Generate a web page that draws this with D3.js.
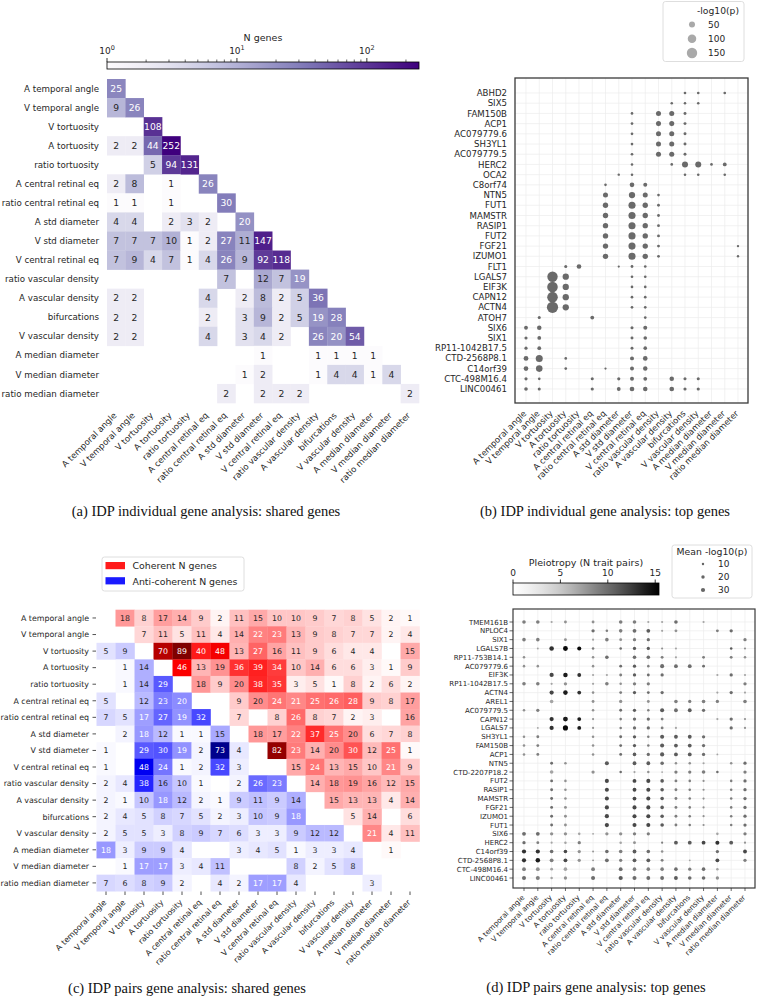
<!DOCTYPE html>
<html><head><meta charset="utf-8">
<script src="https://cdn.jsdelivr.net/npm/d3@7"></script>
<style>
body{margin:0;background:#fff}
svg{display:block}
text{font-family:"DejaVu Sans",sans-serif}
.cap{font-family:"Liberation Serif","Times New Roman",serif}
</style>
</head><body>
<svg id="fig" width="758" height="999"></svg>
<script>
const _ = null;
const traits = ["A temporal angle","V temporal angle","V tortuosity","A tortuosity","ratio tortuosity","A central retinal eq","ratio central retinal eq","A std diameter","V std diameter","V central retinal eq","ratio vascular density","A vascular density","bifurcations","V vascular density","A median diameter","V median diameter","ratio median diameter"];

// (a) shared genes, individual analysis (lower triangle incl. diagonal)
const individualShared = [
[25],
[9,26],
[_,_,108],
[2,2,44,252],
[_,_,5,94,131],
[2,8,_,1,_,26],
[1,1,_,1,_,_,30],
[4,4,_,2,3,2,_,20],
[7,7,7,10,1,2,27,11,147],
[7,9,4,7,1,4,26,9,92,118],
[_,_,_,_,_,_,7,_,12,7,19],
[2,2,_,_,_,4,_,2,8,2,5,36],
[2,2,_,_,_,2,_,3,9,2,5,19,28],
[2,2,_,_,_,4,_,3,4,2,_,26,20,54],
[_,_,_,_,_,_,_,_,1,_,_,1,1,1,1],
[_,_,_,_,_,_,_,1,2,_,_,1,4,4,1,4],
[_,_,_,_,_,_,2,_,2,2,2,_,_,_,_,_,2]
];
const nGenesMax = 252;

// (c) pairs shared genes: upper = coherent, lower = anti-coherent
const pairsShared = [
[_,18,8,17,14,9,2,11,15,10,10,9,7,8,5,2,1],
[_,_,7,11,5,11,4,14,22,23,13,9,8,7,7,2,4],
[5,9,_,70,89,40,48,13,27,16,11,9,6,4,4,_,15],
[_,1,14,_,46,13,19,36,39,34,10,14,6,6,3,1,9],
[_,1,14,29,_,18,9,20,38,35,3,5,1,8,2,6,2],
[5,_,12,23,20,_,_,9,20,24,21,25,26,28,9,8,17],
[7,5,17,27,19,32,_,7,_,8,26,8,7,2,3,_,16],
[_,2,18,12,1,1,15,_,18,17,22,37,25,20,6,7,8],
[1,_,29,30,19,2,73,4,_,82,23,14,20,30,12,25,1],
[1,_,48,24,1,2,32,3,_,_,15,24,13,15,10,21,9],
[2,4,38,16,10,1,_,2,26,23,_,14,18,19,16,12,15],
[2,1,10,18,12,2,1,9,11,9,14,_,15,13,13,4,14],
[2,4,5,8,7,5,2,3,10,9,18,_,_,5,14,_,6],
[2,5,5,3,8,9,7,6,3,3,9,12,12,_,21,4,11],
[18,3,9,9,4,_,_,3,4,5,1,3,3,4,_,1,_],
[_,1,17,17,3,4,11,_,_,_,8,2,5,8,_,_,_],
[7,6,8,9,2,_,4,2,17,17,4,_,_,_,3,_,_]
];
const pairsMax = 89;

// (b) top genes, individual analysis: [trait index, -log10(p)]
const genesIndividual = ["ABHD2","SIX5","FAM150B","ACP1","AC079779.6","SH3YL1","AC079779.5","HERC2","OCA2","C8orf74","NTN5","FUT1","MAMSTR","RASIP1","FUT2","FGF21","IZUMO1","FLT1","LGALS7","EIF3K","CAPN12","ACTN4","ATOH7","SIX6","SIX1","RP11-1042B17.5","CTD-2568P8.1","C14orf39","CTC-498M16.4","LINC00461"];
const individualTopP = [
[[12,10],[13,10],[15,10]],
[[11,9],[12,9],[13,9]],
[[8,10],[10,35],[11,35],[12,12]],
[[8,10],[10,35],[11,35],[12,12]],
[[8,10],[10,35],[11,35],[12,12]],
[[8,10],[10,35],[11,35],[12,12]],
[[8,10],[10,35],[11,35],[12,12]],
[[8,9],[11,10],[12,50],[13,50],[14,10],[15,20]],
[[7,8],[8,9],[12,9],[13,9],[15,9]],
[[6,9],[8,30],[9,22]],
[[6,35],[8,55],[9,35],[10,10]],
[[6,40],[8,70],[9,40],[10,11]],
[[6,40],[8,70],[9,40],[10,11]],
[[6,40],[8,70],[9,40],[10,11]],
[[6,40],[8,70],[9,40],[10,11]],
[[6,40],[8,70],[9,40],[10,11],[16,8]],
[[6,40],[8,70],[9,40],[10,11],[16,8]],
[[3,13],[4,30],[7,7],[8,11],[9,10]],
[[2,150],[3,55],[8,10],[9,10]],
[[2,155],[3,55],[8,10],[9,10]],
[[2,155],[3,55],[8,10],[9,10]],
[[2,175],[3,55],[8,10],[9,10]],
[[1,13],[5,20],[9,10]],
[[0,20],[1,28],[8,13],[9,22]],
[[0,14],[1,20],[8,12],[9,18]],
[[0,14],[1,20],[8,12],[9,18]],
[[0,32],[1,68],[3,10],[8,22],[9,30]],
[[0,30],[1,60],[3,10],[6,7],[8,22],[9,28]],
[[0,14],[1,10],[5,13],[7,14],[8,22],[9,20],[11,28],[12,13],[13,13]],
[[0,18],[1,13],[5,14],[7,20],[8,30],[9,28],[11,30],[12,14],[13,14]]
];
const pLegendValues = [50,100,150];

// (d) top genes, pairs analysis: [trait index, mean -log10(p), pleiotropy]
const genesPairs = ["TMEM161B","NPLOC4","SIX1","LGALS7B","RP11-753B14.1","AC079779.6","EIF3K","RP11-1042B17.5","ACTN4","AREL1","AC079779.5","CAPN12","LGALS7","SH3YL1","FAM150B","ACP1","NTN5","CTD-2207P18.2","FUT2","RASIP1","MAMSTR","FGF21","IZUMO1","FUT1","SIX6","HERC2","C14orf39","CTD-2568P8.1","CTC-498M16.4","LINC00461"];
const pairsTop = [
[[0,22,9],[1,22,9],[2,8,7],[3,14,8],[5,14,8],[7,22,9],[8,22,9],[9,8,7],[10,8,7],[11,22,10],[13,8,7]],
[[5,18,10],[6,11,9],[7,22,9],[8,25,10],[9,25,11],[10,8,7],[11,14,8],[14,14,9],[15,18,10]],
[[0,22,9],[1,22,9],[3,14,8],[5,8,7],[6,22,9],[7,14,8],[8,18,9],[9,18,10],[16,18,9]],
[[1,6,7],[2,35,13],[3,40,15],[4,28,15],[5,11,9],[7,11,10],[8,18,11],[9,18,11],[10,8,8],[11,8,7],[15,11,11],[16,8,8]],
[[0,11,8],[5,11,8],[6,22,10],[8,22,10],[9,22,10],[10,14,9],[11,8,7],[13,14,9],[15,14,9],[16,11,8]],
[[0,11,8],[1,11,8],[5,11,8],[7,14,10],[8,18,11],[9,11,9],[10,28,10],[11,25,10],[12,25,10],[13,14,10]],
[[2,30,12],[3,35,14],[4,25,13],[5,8,7],[6,8,7],[7,14,9],[8,18,11],[9,14,10],[10,18,10],[14,8,7],[15,18,10],[16,8,7]],
[[0,22,9],[1,22,9],[2,8,7],[3,18,8],[5,8,7],[6,22,9],[7,11,8],[8,18,9],[9,18,9],[16,18,9]],
[[2,30,12],[3,35,14],[4,25,13],[5,11,8],[7,14,9],[8,18,11],[9,14,10],[10,18,10],[14,8,7],[15,18,10],[16,8,7]],
[[2,22,7],[5,14,8],[7,18,8],[9,14,8],[11,22,9],[12,18,9],[13,22,9],[14,18,9],[16,22,9]],
[[0,11,8],[1,18,9],[5,11,8],[7,14,10],[8,18,11],[9,11,9],[10,28,11],[11,25,10],[12,25,11],[13,18,10]],
[[2,30,13],[3,40,14],[4,25,14],[5,8,8],[7,11,9],[8,18,10],[9,18,10],[10,14,9],[14,8,7],[15,18,10],[16,8,8]],
[[1,6,7],[2,30,13],[3,45,15],[4,25,14],[5,8,8],[7,11,9],[8,18,10],[9,18,10],[10,14,9],[11,8,7],[15,18,10],[16,8,8]],
[[0,11,8],[1,14,9],[5,11,8],[7,14,10],[8,18,11],[9,11,9],[10,28,11],[11,25,11],[12,25,11],[13,18,10]],
[[0,11,8],[1,14,9],[5,11,8],[7,14,10],[8,18,11],[9,11,9],[10,28,11],[11,25,11],[12,25,11],[13,18,10]],
[[0,11,8],[1,14,9],[5,11,8],[7,14,10],[8,22,11],[9,18,10],[10,30,11],[11,25,11],[12,25,11],[13,18,10],[14,6,7]],
[[2,14,10],[3,11,8],[6,28,11],[8,25,11],[9,25,11],[10,22,10],[11,11,8],[12,11,8],[13,8,7],[15,11,8],[16,18,10]],
[[2,22,7],[5,18,8],[7,11,10],[8,8,7],[9,11,8],[10,5,7],[11,18,9],[12,18,9],[13,22,9],[14,11,10],[16,18,9]],
[[2,14,10],[3,11,8],[6,28,12],[8,25,12],[9,28,12],[10,22,11],[11,14,9],[12,11,9],[13,8,8],[15,11,9],[16,18,10]],
[[2,14,10],[3,11,8],[6,28,12],[8,25,12],[9,28,12],[10,22,11],[11,14,9],[12,11,9],[13,8,8],[15,11,9],[16,18,10]],
[[2,14,10],[3,11,8],[6,28,12],[8,25,12],[9,28,12],[10,22,11],[11,14,9],[12,11,9],[13,8,8],[15,11,9],[16,18,10]],
[[2,14,10],[3,14,8],[6,30,12],[8,28,12],[9,28,12],[10,22,11],[11,14,9],[12,11,9],[13,8,8],[15,11,9],[16,18,10]],
[[2,14,10],[3,14,8],[6,30,12],[8,28,12],[9,28,12],[10,22,11],[11,14,9],[12,11,9],[13,8,8],[15,11,9],[16,18,10]],
[[2,14,10],[3,14,8],[6,30,12],[8,28,12],[9,28,12],[10,22,11],[11,14,9],[12,11,9],[13,8,8],[15,11,9],[16,18,10]],
[[0,25,10],[1,25,10],[2,18,8],[3,18,8],[4,11,7],[5,6,7],[6,18,8],[7,18,8],[8,18,9],[9,18,9],[14,11,7],[16,18,9]],
[[0,18,10],[1,14,9],[2,8,7],[3,11,7],[4,18,9],[7,11,7],[8,14,8],[10,8,9],[11,25,11],[12,25,11],[13,25,12],[14,28,13],[15,25,11],[16,8,8]],
[[0,30,13],[1,30,13],[2,22,10],[3,22,12],[4,18,8],[5,6,8],[6,22,10],[7,22,9],[8,25,11],[9,22,10],[10,11,8],[14,18,10],[16,25,12]],
[[0,30,13],[1,35,14],[2,25,9],[3,25,12],[4,18,8],[5,6,8],[6,25,10],[7,18,9],[8,25,11],[9,25,11],[10,14,9],[12,6,7],[14,25,12],[16,18,9]],
[[0,25,9],[1,25,8],[2,14,7],[3,22,7],[5,25,9],[7,25,10],[8,22,9],[9,22,9],[10,22,9],[11,22,10],[12,18,9],[13,22,10],[14,11,7]],
[[0,28,10],[1,28,9],[2,11,7],[3,18,8],[5,28,10],[7,30,11],[8,28,10],[9,25,10],[10,25,10],[11,25,11],[12,22,10],[13,22,10],[14,18,8]]
];
const meanPLegendValues = [10,20,30];
const pleiotropyTicks = [0,5,10,15];
const pleiotropyMax = 15.4;

const captions = ["(a) IDP individual gene analysis: shared genes","(b) IDP individual gene analysis: top genes","(c) IDP pairs gene analysis: shared genes","(d) IDP pairs gene analysis: top genes"];
const legendLabelsC = ["Coherent N genes","Anti-coherent N genes"];

// ---------- helpers ----------
const svg = d3.select("#fig");
const defs = svg.append("defs");
const DARK = "#262626";
function lum(c){
  const rgb = d3.rgb(c);
  const f = v => { v/=255; return v<=0.03928? v/12.92 : Math.pow((v+0.055)/1.055,2.4); };
  return 0.2126*f(rgb.r)+0.7152*f(rgb.g)+0.0722*f(rgb.b);
}
function textCol(c){ return lum(c) > 0.408 ? DARK : "#ffffff"; }
function rotLabels(g, names, xs, y, fs){
  g.selectAll("text.xl").data(names).join("text").attr("class","xl")
    .attr("transform",(d,i)=>`translate(${xs(i)},${y}) rotate(-45)`)
    .attr("text-anchor","end").attr("font-size",fs).attr("fill",DARK).text(d=>d);
}

// ---------- Panel (a) ----------
(function(){
  const g = svg.append("g");
  const x = d3.scaleBand().domain(d3.range(17)).range([107,419]);
  const y = d3.scaleBand().domain(d3.range(17)).range([79,403]);
  const logS = d3.scaleLog().domain([1,nGenesMax]).range([0,1]);
  const col = v => d3.interpolatePurples(logS(v));
  const cells = [];
  individualShared.forEach((row,i)=>row.forEach((v,j)=>{ if(v!==null) cells.push({i,j,v}); }));
  g.selectAll("rect.c").data(cells).join("rect")
    .attr("x",d=>x(d.j)).attr("y",d=>y(d.i)).attr("width",x.bandwidth()+0.3).attr("height",y.bandwidth()+0.3)
    .attr("fill",d=>col(d.v));
  g.selectAll("text.v").data(cells).join("text")
    .attr("x",d=>x(d.j)+x.bandwidth()/2).attr("y",d=>y(d.i)+y.bandwidth()/2)
    .attr("dy","0.36em").attr("text-anchor","middle").attr("font-size",9.2)
    .attr("fill",d=>textCol(col(d.v))).text(d=>d.v);
  g.selectAll("text.yl").data(traits).join("text")
    .attr("x",99).attr("y",(d,i)=>y(i)+y.bandwidth()/2).attr("dy","0.36em")
    .attr("text-anchor","end").attr("font-size",8.7).attr("fill",DARK).text(d=>d);
  rotLabels(g, traits, i=>x(i)+x.bandwidth()/2+1, 416, 8.5);
  // colorbar
  const cb = d3.scaleLog().domain([1,nGenesMax]).range([107,419]);
  const grad = defs.append("linearGradient").attr("id","gPur");
  d3.range(0,1.001,0.05).forEach(t=>grad.append("stop").attr("offset",t).attr("stop-color",d3.interpolatePurples(t)));
  g.append("rect").attr("x",107).attr("y",62).attr("width",312).attr("height",7).attr("fill","url(#gPur)").attr("stroke","#000").attr("stroke-width",0.8);
  const minor = [];
  [1,10,100].forEach(b=>d3.range(2,10).forEach(m=>{ if(b*m<=nGenesMax) minor.push(b*m); }));
  g.selectAll("line.mt").data(minor).join("line").attr("x1",d=>cb(d)).attr("x2",d=>cb(d)).attr("y1",62).attr("y2",59.5).attr("stroke","#000").attr("stroke-width",0.6);
  const major = [1,10,100];
  g.selectAll("line.Mt").data(major).join("line").attr("x1",d=>cb(d)).attr("x2",d=>cb(d)).attr("y1",62).attr("y2",58).attr("stroke","#000").attr("stroke-width",0.8);
  const lab = g.selectAll("text.cbl").data(major).join("text").attr("x",d=>cb(d)).attr("y",54).attr("text-anchor","middle").attr("font-size",9).attr("fill",DARK);
  lab.append("tspan").text("10");
  lab.append("tspan").attr("dy",-4).attr("font-size",6.5).text(d=>Math.round(Math.log10(d)));
  g.append("text").attr("x",263).attr("y",41).attr("text-anchor","middle").attr("font-size",9.5).attr("fill",DARK).text("N genes");
  g.append("text").attr("class","cap").attr("x",206).attr("y",516).attr("text-anchor","middle").attr("font-size",14.5).attr("fill","#111").text(captions[0]);
})();

// ---------- Panel (b) ----------
(function(){
  const g = svg.append("g");
  const x = d3.scalePoint().domain(d3.range(17)).range([526,738]);
  const y = d3.scalePoint().domain(genesIndividual).range([93,389]);
  const r = d3.scaleSqrt().domain([0,150]).range([0,5.2]);
  const X0=515,Y0=78,X1=748,Y1=403;
  g.selectAll("line.gx").data(d3.range(17)).join("line").attr("x1",d=>x(d)).attr("x2",d=>x(d)).attr("y1",Y0).attr("y2",Y1).attr("stroke","#ececec").attr("stroke-width",0.7);
  g.selectAll("line.gy").data(genesIndividual).join("line").attr("x1",X0).attr("x2",X1).attr("y1",d=>y(d)).attr("y2",d=>y(d)).attr("stroke","#ececec").attr("stroke-width",0.7);
  const dots = [];
  individualTopP.forEach((row,i)=>row.forEach(([j,v])=>dots.push({g:genesIndividual[i],j,v})));
  g.selectAll("circle.d").data(dots).join("circle").attr("cx",d=>x(d.j)).attr("cy",d=>y(d.g)).attr("r",d=>r(d.v)).attr("fill","#6a6a6a");
  g.append("rect").attr("x",X0).attr("y",Y0).attr("width",X1-X0).attr("height",Y1-Y0).attr("fill","none").attr("stroke","#3a3a3a").attr("stroke-width",1.3);
  g.selectAll("text.yl").data(genesIndividual).join("text").attr("x",507).attr("y",d=>y(d)).attr("dy","0.36em").attr("text-anchor","end").attr("font-size",8.6).attr("fill",DARK).text(d=>d);
  rotLabels(g, traits, i=>x(i)+1, 414, 8.4);
  // legend
  g.append("rect").attr("x",663).attr("y",1.5).attr("width",81).attr("height",60).attr("rx",2.5).attr("fill","#fff").attr("stroke","#d5d5d5").attr("stroke-width",0.8);
  g.append("text").attr("x",718).attr("y",14).attr("text-anchor","middle").attr("font-size",9.2).attr("fill",DARK).text("-log10(p)");
  const ly = d3.scaleLinear().domain([0,2]).range([24.5,53]);
  g.selectAll("circle.l").data(pLegendValues).join("circle").attr("cx",692).attr("cy",(d,i)=>ly(i)).attr("r",d=>r(d)).attr("fill","#a9a9a9");
  g.selectAll("text.l").data(pLegendValues).join("text").attr("x",708).attr("y",(d,i)=>ly(i)).attr("dy","0.36em").attr("font-size",9).attr("fill",DARK).text(d=>d);
  g.append("text").attr("class","cap").attr("x",605).attr("y",516).attr("text-anchor","middle").attr("font-size",14.5).attr("fill","#111").text(captions[1]);
})();

// ---------- Panel (c) ----------
(function(){
  const g = svg.append("g");
  const x = d3.scaleBand().domain(d3.range(17)).range([96.5,419.5]);
  const y = d3.scaleBand().domain(d3.range(17)).range([609.7,891.2]);
  const seismic = d3.scaleLinear().domain([0,0.25,0.5,0.75,1]).range(["#00004d","#0000ff","#ffffff","#ff0000","#800000"]);
  const cells = [];
  pairsShared.forEach((row,i)=>row.forEach((v,j)=>{ if(v!==null) cells.push({i,j,v,c: j>i ? seismic(0.5+0.5*v/pairsMax) : seismic(0.5-0.5*v/pairsMax)}); }));
  g.selectAll("rect.c").data(cells).join("rect")
    .attr("x",d=>x(d.j)).attr("y",d=>y(d.i)).attr("width",x.bandwidth()+0.3).attr("height",y.bandwidth()+0.3).attr("fill",d=>d.c);
  g.selectAll("text.v").data(cells).join("text")
    .attr("x",d=>x(d.j)+x.bandwidth()/2).attr("y",d=>y(d.i)+y.bandwidth()/2).attr("dy","0.36em")
    .attr("text-anchor","middle").attr("font-size",7.8).attr("fill",d=>textCol(d.c)).text(d=>d.v);
  g.selectAll("text.yl").data(traits).join("text").attr("x",89).attr("y",(d,i)=>y(i)+y.bandwidth()/2).attr("dy","0.36em")
    .attr("text-anchor","end").attr("font-size",7.9).attr("fill",DARK).text(d=>d);
  g.selectAll("line.yt").data(traits).join("line").attr("x1",92.5).attr("x2",96).attr("y1",(d,i)=>y(i)+y.bandwidth()/2).attr("y2",(d,i)=>y(i)+y.bandwidth()/2).attr("stroke",DARK).attr("stroke-width",0.8);
  g.selectAll("line.xt").data(traits).join("line").attr("y1",891.5).attr("y2",895).attr("x1",(d,i)=>x(i)+x.bandwidth()/2).attr("x2",(d,i)=>x(i)+x.bandwidth()/2).attr("stroke",DARK).attr("stroke-width",0.8);
  rotLabels(g, traits, i=>x(i)+x.bandwidth()/2+1, 903, 7.9);
  // legend
  g.append("rect").attr("x",102).attr("y",557).attr("width",142).attr("height",34).attr("rx",2.5).attr("fill","#fff").attr("stroke","#d5d5d5").attr("stroke-width",0.8);
  const lc = ["#ff1a1a","#1a1aff"];
  g.selectAll("rect.lp").data(legendLabelsC).join("rect").attr("x",105.5).attr("y",(d,i)=>562+i*15.2).attr("width",19.5).attr("height",7.2).attr("fill",(d,i)=>lc[i]);
  g.selectAll("text.lt").data(legendLabelsC).join("text").attr("x",132.5).attr("y",(d,i)=>566+i*15.2).attr("dy","0.36em").attr("font-size",9.4).attr("fill",DARK).text(d=>d);
  g.append("text").attr("class","cap").attr("x",187).attr("y",993).attr("text-anchor","middle").attr("font-size",14.5).attr("fill","#111").text(captions[2]);
})();

// ---------- Panel (d) ----------
(function(){
  const g = svg.append("g");
  const x = d3.scalePoint().domain(d3.range(17)).range([524,745]);
  const y = d3.scalePoint().domain(genesPairs).range([622,878]);
  const r = d3.scaleSqrt().domain([0,30]).range([0,2.1]);
  const cs = d3.scaleSequential(d3.interpolateGreys).domain([0,pleiotropyMax]);
  const X0=513,Y0=609,X1=755,Y1=888;
  g.selectAll("line.gx").data(d3.range(17)).join("line").attr("x1",d=>x(d)).attr("x2",d=>x(d)).attr("y1",Y0).attr("y2",Y1).attr("stroke","#ececec").attr("stroke-width",0.7);
  g.selectAll("line.gy").data(genesPairs).join("line").attr("x1",X0).attr("x2",X1).attr("y1",d=>y(d)).attr("y2",d=>y(d)).attr("stroke","#ececec").attr("stroke-width",0.7);
  const dots = [];
  pairsTop.forEach((row,i)=>row.forEach(([j,v,p])=>dots.push({g:genesPairs[i],j,v,p})));
  g.selectAll("circle.d").data(dots).join("circle").attr("cx",d=>x(d.j)).attr("cy",d=>y(d.g)).attr("r",d=>r(d.v)).attr("fill",d=>cs(d.p));
  g.append("rect").attr("x",X0).attr("y",Y0).attr("width",X1-X0).attr("height",Y1-Y0).attr("fill","none").attr("stroke","#3a3a3a").attr("stroke-width",1.2);
  g.selectAll("text.yl").data(genesPairs).join("text").attr("x",508).attr("y",d=>y(d)).attr("dy","0.36em").attr("text-anchor","end").attr("font-size",7).attr("fill",DARK).text(d=>d);
  g.selectAll("line.yt").data(genesPairs).join("line").attr("x1",509.5).attr("x2",X0).attr("y1",d=>y(d)).attr("y2",d=>y(d)).attr("stroke",DARK).attr("stroke-width",0.7);
  g.selectAll("line.xt").data(d3.range(17)).join("line").attr("x1",d=>x(d)).attr("x2",d=>x(d)).attr("y1",Y1).attr("y2",Y1+3).attr("stroke",DARK).attr("stroke-width",0.7);
  rotLabels(g, traits, i=>x(i)+1, 898, 7.3);
  // colorbar
  const cb = d3.scaleLinear().domain([0,pleiotropyMax]).range([513,659]);
  const grad = defs.append("linearGradient").attr("id","gGrey");
  d3.range(0,1.001,0.1).forEach(t=>grad.append("stop").attr("offset",t).attr("stop-color",d3.interpolateGreys(t)));
  g.append("rect").attr("x",513).attr("y",583).attr("width",146).attr("height",12).attr("fill","url(#gGrey)").attr("stroke","#000").attr("stroke-width",0.8);
  g.selectAll("line.ct").data(pleiotropyTicks).join("line").attr("x1",d=>cb(d)).attr("x2",d=>cb(d)).attr("y1",583).attr("y2",579.5).attr("stroke","#000").attr("stroke-width",0.8);
  g.selectAll("text.ct").data(pleiotropyTicks).join("text").attr("x",d=>cb(d)).attr("y",576).attr("text-anchor","middle").attr("font-size",9).attr("fill",DARK).text(d=>d);
  g.append("text").attr("x",586).attr("y",566).attr("text-anchor","middle").attr("font-size",9.5).attr("fill",DARK).text("Pleiotropy (N trait pairs)");
  // size legend
  g.append("rect").attr("x",672).attr("y",545).attr("width",80).attr("height",53).attr("rx",2.5).attr("fill","#fff").attr("stroke","#d5d5d5").attr("stroke-width",0.8);
  g.append("text").attr("x",712).attr("y",554.5).attr("text-anchor","middle").attr("font-size",9.3).attr("fill",DARK).text("Mean -log10(p)");
  const ly = d3.scaleLinear().domain([0,2]).range([564,590]);
  g.selectAll("circle.l").data(meanPLegendValues).join("circle").attr("cx",703).attr("cy",(d,i)=>ly(i)).attr("r",d=>r(d)).attr("fill","#666");
  g.selectAll("text.l").data(meanPLegendValues).join("text").attr("x",718).attr("y",(d,i)=>ly(i)).attr("dy","0.36em").attr("font-size",9).attr("fill",DARK).text(d=>d);
  g.append("text").attr("class","cap").attr("x",596).attr("y",992).attr("text-anchor","middle").attr("font-size",14.5).attr("fill","#111").text(captions[3]);
})();
</script>
</body></html>
